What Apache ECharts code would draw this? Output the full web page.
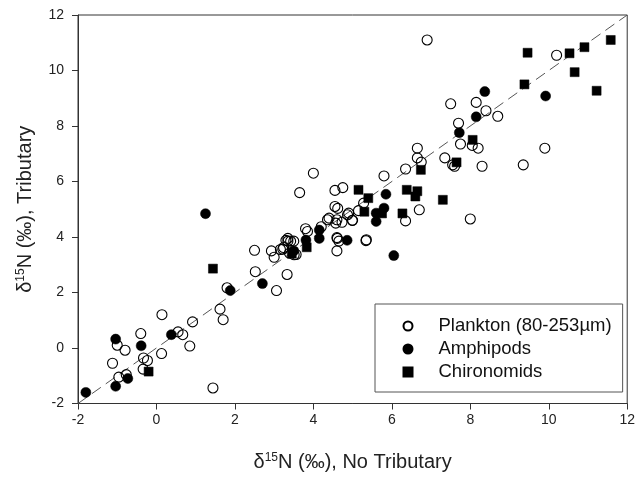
<!DOCTYPE html>
<html>
<head>
<meta charset="utf-8">
<script src="https://cdn.jsdelivr.net/npm/echarts@6/dist/echarts.min.js"></script>
<style>html,body{margin:0;padding:0;background:#fff;}#c{width:638px;height:477px;}</style>
</head>
<body>
<div id="c"></div>
<script>
const xTicks = [-2, 0, 2, 4, 6, 8, 10, 12];
const yTicks = [-2, 0, 2, 4, 6, 8, 10, 12];
const seriesNames = ['Plankton (80-253µm)', 'Amphipods', 'Chironomids'];
const oneToOne = [[-2, -2], [12, 12]];

const plankton = [
  [6.9,11.1],[10.2,10.55],[7.5,8.8],[8.15,8.85],[8.4,8.55],[8.7,8.35],[7.7,8.1],[7.75,7.35],[8.05,7.3],[8.2,7.2],
  [9.9,7.2],[9.35,6.6],[8.3,6.55],[7.55,6.6],[7.6,6.55],[7.35,6.85],[6.65,7.2],[6.65,6.85],[6.75,6.7],[6.35,6.45],
  [5.8,6.2],[4.75,5.78],[4.55,5.68],[4.0,6.3],[3.65,5.6],[8.0,4.65],[6.7,4.98],[6.35,4.58],[5.35,3.9],[5.0,4.6],
  [4.87,4.8],[5.15,4.95],[5.28,5.22],[4.55,5.1],[4.62,5.03],[4.4,4.68],[4.6,4.62],[4.73,4.53],[4.6,3.98],[4.6,3.5],
  [4.65,3.85],[4.9,4.86],[4.36,4.62],[4.57,4.5],[4.99,4.6],[4.2,4.37],[3.8,4.3],[3.85,4.2],[3.35,3.95],[3.3,3.88],
  [3.42,3.85],[2.5,3.52],[2.93,3.5],[3.16,3.55],[3.24,3.62],[3.0,3.27],[3.35,3.85],[3.5,3.85],[3.56,3.37],[3.33,2.65],
  [2.52,2.75],[3.06,2.07],[1.8,2.17],[1.62,1.4],[1.7,1.02],[0.92,0.94],[0.14,1.2],[0.55,0.58],[0.67,0.48],[0.85,0.07],
  [0.13,-0.2],[-0.4,0.52],[-1.0,0.1],[-0.8,-0.08],[-1.12,-0.55],[-0.33,-0.36],[-0.23,-0.45],[-0.34,-0.76],[-0.96,-1.05],[-0.77,-0.96],
  [1.44,-1.44],[3.22,3.56],[3.39,3.42],[3.51,3.36],[4.61,3.95],[5.34,3.87]
];
const amphipods = [
  [-1.8,-1.6],[-1.04,-1.38],[-1.04,0.32],[-0.39,0.08],[-0.73,-1.1],[0.38,0.48],[1.88,2.07],[2.7,2.32],[1.25,4.84],[3.81,3.89],
  [4.15,3.95],[4.15,4.25],[4.86,3.88],[6.05,3.33],[5.6,4.56],[5.6,4.86],[5.8,5.04],[5.85,5.54],[7.72,7.76],[8.15,8.33],
  [8.37,9.24],[9.92,9.08],[3.5,3.5]
];
const chironomids = [
  [-0.2,-0.85],[1.44,2.86],[3.83,3.63],[3.45,3.4],[5.15,5.7],[5.4,5.4],[5.3,4.91],[5.75,4.85],[6.27,4.85],[6.38,5.7],
  [6.6,5.46],[6.65,5.65],[6.74,6.42],[7.3,5.34],[7.65,6.69],[8.06,7.5],[9.38,9.5],[9.46,10.64],[10.53,10.62],[10.91,10.84],
  [11.58,11.1],[10.66,9.94],[11.22,9.27]
];

const FONT = '"Liberation Sans", Arial, sans-serif';
const chart = echarts.init(document.getElementById('c'), null, {renderer: 'canvas'});
const titleRich = {
  d: {fontFamily: FONT, fontSize: 20, color: '#222'},
  s: {fontFamily: FONT, fontSize: 12, color: '#222', padding: [0, 0, 9, 0]},
  n: {fontFamily: FONT, fontSize: 20, color: '#222'}
};
chart.setOption({
  animation: false,
  backgroundColor: '#fff',
  grid: {left: 78, right: 5, top: 15, bottom: 73, show: true, borderColor: '#333', borderWidth: 1, backgroundColor: 'transparent'},
  xAxis: {
    type: 'value', min: xTicks[0], max: xTicks[xTicks.length - 1], interval: 2,
    axisLine: {onZero: false, lineStyle: {color: '#333', width: 1}},
    axisTick: {show: true, length: 6, lineStyle: {color: '#333'}},
    axisLabel: {fontFamily: FONT, fontSize: 14, color: '#222', margin: 10},
    splitLine: {show: false},
    name: '{d|δ}{s|15}{n|N (‰), No Tributary}', nameLocation: 'middle', nameGap: 48,
    nameTextStyle: {rich: titleRich}
  },
  yAxis: {
    type: 'value', min: yTicks[0], max: yTicks[yTicks.length - 1], interval: 2,
    axisLine: {onZero: false, lineStyle: {color: '#333', width: 1}},
    axisTick: {show: true, length: 6, lineStyle: {color: '#333'}},
    axisLabel: {fontFamily: FONT, fontSize: 14, color: '#222', margin: 14},
    splitLine: {show: false},
    name: '{d|δ}{s|15}{n|N (‰), Tributary}', nameLocation: 'middle', nameGap: 42, nameRotate: 90,
    nameTextStyle: {rich: titleRich}
  },
  legend: {
    data: seriesNames, orient: 'vertical', left: 375, top: 304,
    itemWidth: 9, itemHeight: 9, itemGap: 3,
    padding: [12, 11, 10, 27.5],
    borderColor: '#555', borderWidth: 1, backgroundColor: '#fff',
    textStyle: {fontFamily: FONT, fontSize: 18.5, color: '#111', lineHeight: 20, padding: [0, 0, 0, 21]}
  },
  series: [
    {
      type: 'line', data: oneToOne, symbol: 'none', silent: true, z: 1,
      lineStyle: {color: '#555', width: 1, type: [11, 6]}
    },
    {
      name: seriesNames[0], type: 'scatter', data: plankton, symbol: 'circle', symbolSize: 10, z: 3,
      itemStyle: {color: 'rgba(255,255,255,0)', borderColor: '#000', borderWidth: 1.1, opacity: 1}
    },
    {
      name: seriesNames[1], type: 'scatter', data: amphipods, symbol: 'circle', symbolSize: 10, z: 4,
      itemStyle: {color: '#000', borderColor: '#000', borderWidth: 0.5, opacity: 1}
    },
    {
      name: seriesNames[2], type: 'scatter', data: chironomids, symbol: 'rect', symbolSize: 9, z: 4,
      itemStyle: {color: '#000', borderColor: '#000', borderWidth: 0.5, opacity: 1}
    }
  ]
});
</script>
</body>
</html>
